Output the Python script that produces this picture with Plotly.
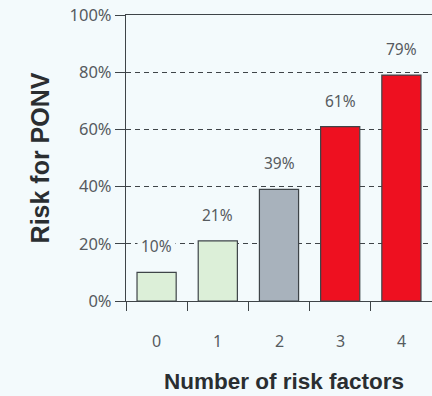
import plotly.graph_objects as go

# Risk of postoperative nausea and vomiting by number of risk factors
categories = [0, 1, 2, 3, 4]
risk_pct = [10, 21, 39, 61, 79]
bar_colors = ["#dcefd8", "#dcefd8", "#a8b2bc", "#ee1020", "#ee1020"]
value_labels = [f"{v}%" for v in risk_pct]
y_ticks = [0, 20, 40, 60, 80, 100]
y_tick_labels = [f"{v}%" for v in y_ticks]

bg = "#f3fafc"
ink = "#565b5f"
axis_col = "#3e4448"

fig = go.Figure()
fig.add_trace(go.Bar(
    x=categories,
    y=risk_pct,
    width=0.64,
    marker=dict(color=bar_colors, line=dict(color=axis_col, width=1.2)),
    hoverinfo="skip",
))

# value labels above each bar, on a background patch so gridlines stop at them
for x, v, lab in zip(categories, risk_pct, value_labels):
    fig.add_annotation(
        x=x, y=v, text=lab, showarrow=False, yshift=26,
        bgcolor=bg, borderpad=3,
        font=dict(family="Noto Sans", size=15.5, color=ink),
    )

fig.update_layout(
    width=432, height=396,
    margin=dict(l=126, r=0, t=15, b=95),
    paper_bgcolor=bg, plot_bgcolor=bg,
    showlegend=False,
)

# x ticks sit on the category boundaries
fig.update_xaxes(
    range=[-0.5, 4.5],
    tickmode="array",
    tickvals=[-0.5, 0.5, 1.5, 2.5, 3.5, 4.5],
    ticktext=["", "", "", "", "", ""],
    ticks="outside", ticklen=9, tickwidth=1.3, tickcolor=axis_col,
    showline=True, linecolor=axis_col, linewidth=1.3, mirror=True,
    showgrid=False, zeroline=False,
)

# category numbers under the bars
for x in categories:
    fig.add_annotation(
        x=x, y=0, yref="y", text=str(x), showarrow=False, yshift=-40,
        font=dict(family="Noto Sans", size=16, color=ink),
    )

fig.add_annotation(
    x=0.515, xref="paper", y=0, yref="y", yshift=-80,
    text="<b>Number of risk factors</b>", showarrow=False,
    font=dict(family="Liberation Sans", size=22.5, color="#2a2e31"),
)

fig.update_yaxes(
    range=[0, 100],
    tickmode="array", tickvals=y_ticks, ticktext=y_tick_labels,
    ticks="outside", ticklen=10, tickwidth=1.3, tickcolor=axis_col,
    tickfont=dict(family="Noto Sans", size=16.5, color=ink),
    showline=True, linecolor=axis_col, linewidth=1.3,
    showgrid=True, gridcolor=axis_col, gridwidth=1.2, griddash="5px,4px",
    zeroline=False,
    title=dict(text="<b>Risk for PONV</b>", standoff=12,
               font=dict(family="Liberation Sans", size=25, color="#2a2e31")),
)

fig.write_html("out.html")
